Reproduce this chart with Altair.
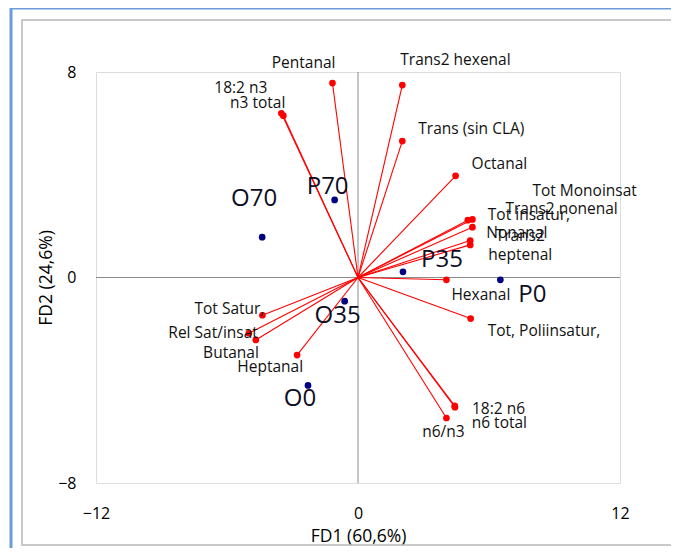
import altair as alt
import pandas as pd

# Variables (loadings)
var_names = ["Pentanal", "Trans2 hexenal", "18:2 n3", "n3 total", "Trans (sin CLA)",
             "Octanal", "Tot Monoinsat", "Tot insatur,", "Trans2 nonenal", "Nonanal",
             "Trans2 heptenal", "Hexanal", "Tot, Poliinsatur,", "18:2 n6", "n6 total",
             "n6/n3", "Tot Satur,", "Rel Sat/insat", "Butanal", "Heptanal"]
var_x = [-1.17, 2.03, -3.51, -3.42, 2.03, 4.47, 5.24, 5.03, 5.24, 5.14,
         5.14, 4.05, 5.16, 4.44, 4.43, 4.05, -4.38, -5.00, -4.68, -2.79]
var_y = [7.57, 7.49, 6.39, 6.30, 5.31, 3.96, 2.26, 2.23, 1.96, 1.44,
         1.27, -0.09, -1.60, -5.05, -5.00, -5.47, -1.47, -2.17, -2.43, -3.02]

# Observations (scores)
obs_names = ["P70", "O70", "P35", "P0", "O35", "O0"]
obs_x = [-1.07, -4.39, 2.06, 6.52, -0.61, -2.29]
obs_y = [3.02, 1.57, 0.22, -0.09, -0.92, -4.20]

x_ticks = [-12, 0, 12]
y_ticks = [-8, 0, 8]

var_df = pd.DataFrame({"name": var_names, "x": var_x, "y": var_y})
obs_df = pd.DataFrame({"name": obs_names, "x": obs_x, "y": obs_y})

FONT = "Open Sans"
W, H = 524, 411
VFS = 15.5   # variable label font size
OFS = 24     # observation label font size

xs = alt.Scale(domain=[-12, 12], nice=False, zero=False)
ys = alt.Scale(domain=[-8, 8], nice=False, zero=False)

xax = alt.Axis(values=x_ticks, grid=False, ticks=False, domain=False, labelPadding=22,
               labelFontSize=16, labelFont=FONT, labelColor="#000", title="FD1 (60,6%)",
               titleFont=FONT, titleFontSize=17.5, titleFontWeight="normal", titleColor="#000",
               titlePadding=6, labelFlush=False)
yax = alt.Axis(values=y_ticks, grid=False, ticks=False, domain=False, labelPadding=20,
               labelFontSize=16, labelFont=FONT, labelColor="#000", title="FD2 (24,6%)",
               titleFont=FONT, titleFontSize=17.5, titleFontWeight="normal", titleColor="#000",
               titlePadding=2, labelFlush=False)

# decorative outer frames (page chrome of the original)
frame_gray = alt.Chart(pd.DataFrame({"k": [0]})).mark_rect(
    fill=None, stroke="#b8b8b8", strokeWidth=1.5).encode(
    x=alt.value(-74), x2=alt.value(640), y=alt.value(-52), y2=alt.value(473))
frame_blue_l = alt.Chart(pd.DataFrame({"k": [0]})).mark_rule(
    color="#6b9bd8", strokeWidth=3).encode(
    x=alt.value(-85), y=alt.value(-64), y2=alt.value(490))
frame_blue_t = alt.Chart(pd.DataFrame({"k": [0]})).mark_rule(
    color="#6b9bd8", strokeWidth=3).encode(
    x=alt.value(-86), x2=alt.value(640), y=alt.value(-64))

base_axes = alt.Chart(pd.DataFrame({"x": [0], "y": [0]})).mark_point(opacity=0).encode(
    x=alt.X("x:Q", scale=xs, axis=xax),
    y=alt.Y("y:Q", scale=ys, axis=yax))

zero_v = alt.Chart(pd.DataFrame({"k": [0]})).mark_rule(color="#8c8c8c", strokeWidth=1).encode(
    x=alt.datum(0, scale=xs))
zero_h = alt.Chart(pd.DataFrame({"k": [0]})).mark_rule(color="#8c8c8c", strokeWidth=1).encode(
    y=alt.datum(0, scale=ys))

vectors = alt.Chart(var_df).transform_calculate(x0="0", y0="0").mark_rule(
    color="#ff0000", strokeWidth=1.1).encode(
    x=alt.X("x0:Q", scale=xs), y=alt.Y("y0:Q", scale=ys), x2="x:Q", y2="y:Q")

var_pts = alt.Chart(var_df).mark_circle(color="#ff0000", size=45, opacity=1).encode(
    x=alt.X("x:Q", scale=xs), y=alt.Y("y:Q", scale=ys))

obs_pts = alt.Chart(obs_df).mark_circle(color="#000080", size=45, opacity=1).encode(
    x=alt.X("x:Q", scale=xs), y=alt.Y("y:Q", scale=ys))

# label styling: (align, dx, dy)
var_label_style = {
    "Pentanal": ("right", 3, -20),
    "Trans2 hexenal": ("left", -2, -25),
    "18:2 n3": ("right", -14, -25),
    "n3 total": ("right", 2, -13),
    "Trans (sin CLA)": ("left", 16, -12),
    "Octanal": ("left", 16, -12),
    "Tot Monoinsat": ("left", 60, -28),
    "Tot insatur,": ("left", 20, -5),
    "Trans2 nonenal": ("left", 33, -18),
    "Nonanal": ("left", 16, -8),
    "Hexanal": ("left", 5, 15),
    "Tot, Poliinsatur,": ("left", 17, 12),
    "18:2 n6": ("left", 17, 2),
    "n6 total": ("left", 17, 17),
    "n6/n3": ("center", -3, 14),
    "Tot Satur,": ("right", 2, -6),
    "Rel Sat/insat": ("right", 9, 0),
    "Butanal": ("right", 3, 13),
    "Heptanal": ("right", 6, 12),
}
obs_label_style = {
    "P70": ("center", -7, -13),
    "O70": ("center", -8, -38),
    "P35": ("center", 39, -12),
    "P0": ("center", 32, 15),
    "O35": ("center", -7, 15),
    "O0": ("center", -8, 14),
}

layers = [frame_gray, frame_blue_l, frame_blue_t, base_axes, zero_v, zero_h, vectors, var_pts, obs_pts]

for nm, (al, dx, dy) in var_label_style.items():
    layers.append(alt.Chart(var_df).transform_filter(alt.datum.name == nm).mark_text(
        align=al, baseline="middle", dx=dx, dy=dy, font=FONT, fontSize=VFS, color="#111").encode(
        x=alt.X("x:Q", scale=xs), y=alt.Y("y:Q", scale=ys), text="name:N"))

# two-line label
layers.append(alt.Chart(var_df).transform_filter(alt.datum.name == "Trans2 heptenal").mark_text(
    align="center", baseline="top", dx=50, dy=-16, lineBreak=" ", lineHeight=19,
    font=FONT, fontSize=VFS, color="#111").encode(
    x=alt.X("x:Q", scale=xs), y=alt.Y("y:Q", scale=ys), text="name:N"))

for nm, (al, dx, dy) in obs_label_style.items():
    layers.append(alt.Chart(obs_df).transform_filter(alt.datum.name == nm).mark_text(
        align=al, baseline="middle", dx=dx, dy=dy, font=FONT, fontSize=OFS, color="#0d0d26").encode(
        x=alt.X("x:Q", scale=xs), y=alt.Y("y:Q", scale=ys), text="name:N"))

chart = alt.layer(*layers).properties(
    width=W, height=H,
    autosize=alt.AutoSizeParams(type="none"),
    padding={"left": 88, "top": 64, "right": 51, "bottom": 65},
).configure_view(stroke="#a6a6a6", strokeWidth=1.5).configure(background="white")

chart.save("out.html", embed_options={"renderer": "svg", "actions": False})
